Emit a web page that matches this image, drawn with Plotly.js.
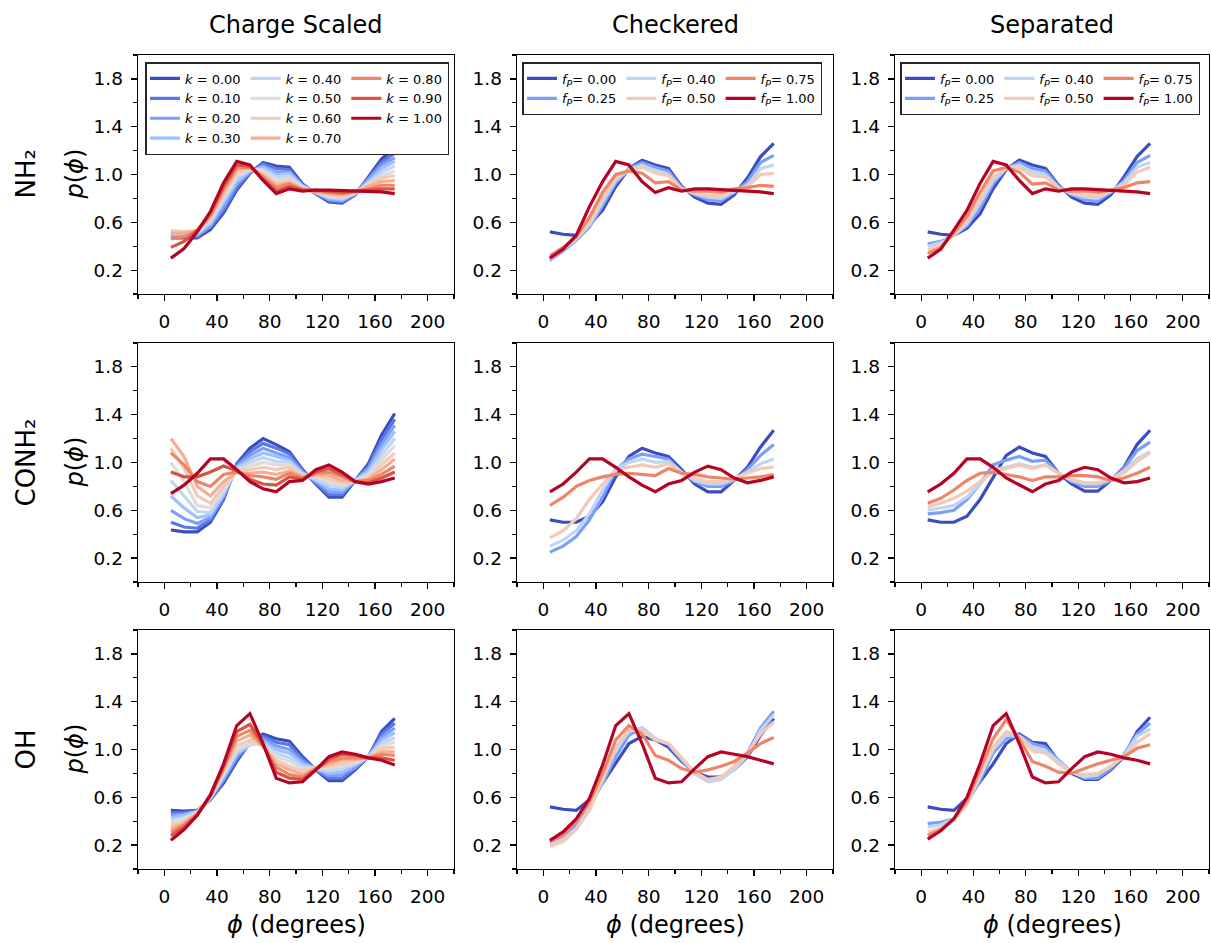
<!DOCTYPE html>
<html>
<head>
<meta charset="utf-8">
<script src="https://cdn.plot.ly/plotly-3.0.1.min.js"></script>
<style>html,body{margin:0;padding:0;background:#fff;}#chart{width:1211px;height:943px;}</style>
</head>
<body>
<div id="chart"></div>
<script>
// ---------------- data ----------------
const phi = [5,15,25,35,45,55,65,75,85,95,105,115,125,135,145,155,165,175];
const kValues = [0.00,0.10,0.20,0.30,0.40,0.50,0.60,0.70,0.80,0.90,1.00];
const fpValues = [0.00,0.25,0.40,0.50,0.75,1.00];
const colTitles = ['Charge Scaled','Checkered','Separated'];
const rowLabels = ['NH\u2082','CONH\u2082','OH'];
const xTickVals = [0,40,80,120,160,200];
const xTickText = ['0','40','80','120','160','200'];
const yTickVals = [0.2,0.6,1.0,1.4,1.8];
const yTickText = ['0.2','0.6','1.0','1.4','1.8'];

// NH2 – charge scaled (k = 0.0 ... 1.0)
const nh2Charge = [
 [.47,.47,.47,.54,.68,.87,1.01,1.10,1.07,1.06,.92,.84,.77,.76,.83,.98,1.13,1.22],
 [.48,.48,.48,.56,.70,.89,1.02,1.09,1.05,1.04,.91,.84,.78,.77,.83,.97,1.10,1.18],
 [.49,.49,.49,.57,.73,.92,1.02,1.07,1.02,1.02,.91,.85,.79,.78,.84,.96,1.08,1.14],
 [.50,.50,.50,.59,.76,.94,1.03,1.06,1.00,1.01,.90,.85,.80,.79,.84,.94,1.05,1.11],
 [.51,.51,.51,.60,.78,.97,1.04,1.04,.98,.99,.90,.85,.81,.80,.84,.93,1.02,1.07],
 [.52,.52,.52,.62,.80,.99,1.04,1.03,.96,.97,.89,.86,.82,.81,.85,.92,.99,1.03],
 [.53,.52,.53,.63,.83,1.01,1.05,1.01,.93,.95,.88,.86,.83,.82,.85,.91,.97,.99],
 [.51,.51,.53,.65,.85,1.04,1.06,.99,.91,.93,.88,.86,.84,.83,.85,.90,.94,.95],
 [.46,.48,.53,.66,.88,1.06,1.06,.98,.89,.92,.87,.86,.85,.84,.86,.88,.91,.91],
 [.39,.44,.53,.68,.90,1.08,1.07,.96,.86,.90,.87,.87,.86,.85,.86,.87,.88,.88],
 [.30,.38,.52,.69,.93,1.11,1.08,.95,.84,.88,.86,.87,.87,.865,.86,.86,.855,.84]
];
// NH2 – checkered (fP)
const nh2Checkered = [
 [.52,.50,.49,.58,.70,.90,1.05,1.12,1.08,1.05,.90,.81,.76,.75,.83,.97,1.15,1.26],
 [.28,.36,.45,.56,.74,.93,1.05,1.10,1.06,1.03,.89,.83,.79,.78,.85,.94,1.10,1.16],
 [.29,.37,.46,.58,.77,.95,1.04,1.08,1.03,1.00,.88,.84,.81,.80,.86,.91,1.05,1.08],
 [.30,.38,.47,.60,.80,.97,1.04,1.06,1.01,.99,.88,.85,.83,.82,.87,.90,1.00,1.01],
 [.32,.39,.48,.64,.85,1.00,1.03,1.01,.93,.94,.87,.86,.86,.85,.88,.89,.91,.90],
 [.30,.375,.49,.73,.94,1.11,1.08,.94,.85,.89,.86,.88,.88,.875,.87,.865,.855,.84]
];
// NH2 – separated (fP)
const nh2Separated = [
 [.52,.50,.49,.55,.67,.88,1.04,1.12,1.08,1.05,.91,.81,.76,.75,.83,.98,1.15,1.26],
 [.42,.44,.49,.57,.72,.92,1.05,1.10,1.05,1.03,.90,.83,.79,.78,.85,.95,1.10,1.16],
 [.40,.43,.49,.59,.76,.95,1.05,1.08,1.02,1.00,.89,.84,.81,.80,.86,.93,1.06,1.10],
 [.37,.41,.50,.61,.79,.98,1.05,1.06,.99,.98,.88,.85,.83,.82,.86,.91,1.02,1.06],
 [.34,.39,.51,.65,.85,1.03,1.06,1.02,.92,.93,.87,.86,.86,.85,.87,.89,.93,.94],
 [.30,.375,.535,.70,.925,1.11,1.08,.95,.84,.88,.86,.88,.88,.875,.87,.86,.855,.84]
];
// CONH2 – charge scaled
const conh2Charge = [
 [.435,.42,.42,.50,.69,.99,1.12,1.20,1.15,1.09,.94,.82,.71,.71,.85,.99,1.23,1.41],
 [.50,.46,.45,.52,.70,.98,1.09,1.16,1.12,1.07,.93,.83,.73,.73,.85,.97,1.19,1.36],
 [.60,.53,.49,.54,.72,.97,1.06,1.12,1.08,1.04,.92,.84,.76,.75,.85,.95,1.15,1.31],
 [.72,.62,.54,.56,.73,.96,1.03,1.08,1.05,1.02,.91,.85,.78,.77,.85,.93,1.11,1.26],
 [.85,.72,.59,.58,.75,.95,1.00,1.04,1.01,1.00,.90,.86,.81,.79,.85,.91,1.06,1.20],
 [1.00,.84,.64,.62,.77,.94,.97,1.00,.98,.98,.90,.88,.84,.81,.85,.89,1.02,1.14],
 [1.12,.95,.72,.66,.80,.93,.94,.96,.94,.96,.89,.89,.86,.83,.84,.87,.98,1.08],
 [1.20,1.05,.80,.72,.84,.92,.91,.92,.90,.93,.88,.90,.89,.85,.84,.86,.94,1.03],
 [1.08,.98,.84,.80,.90,.92,.89,.88,.86,.91,.87,.91,.92,.88,.84,.85,.90,.97],
 [.92,.88,.88,.92,.97,.93,.86,.82,.81,.88,.86,.92,.95,.90,.84,.83,.87,.92],
 [.74,.81,.91,1.03,1.03,.94,.84,.78,.755,.84,.85,.94,.98,.92,.84,.82,.84,.87]
];
// CONH2 – checkered
const conh2Checkered = [
 [.52,.50,.50,.55,.67,.88,1.05,1.12,1.08,1.05,.94,.82,.755,.755,.85,.96,1.13,1.27],
 [.25,.30,.38,.52,.71,.94,1.03,1.07,1.05,1.03,.92,.84,.80,.80,.85,.94,1.06,1.15],
 [.30,.35,.43,.57,.77,.95,1.00,1.03,1.00,1.01,.92,.85,.82,.82,.86,.92,.99,1.03],
 [.37,.43,.53,.69,.82,.94,.96,.98,.96,.99,.91,.87,.84,.84,.87,.91,.95,.96],
 [.64,.71,.80,.85,.88,.90,.91,.90,.89,.95,.91,.90,.88,.87,.86,.87,.88,.90],
 [.755,.82,.92,1.03,1.03,.96,.88,.81,.755,.82,.85,.92,.97,.94,.87,.83,.85,.88]
];
// CONH2 – separated
const conh2Separated = [
 [.52,.50,.50,.55,.69,.88,1.06,1.13,1.08,1.05,.91,.82,.76,.76,.85,.96,1.15,1.27],
 [.57,.58,.60,.69,.82,.98,1.02,1.05,1.01,1.02,.91,.84,.80,.80,.85,.95,1.10,1.17],
 [.60,.62,.64,.71,.82,.94,.96,.99,.96,.98,.91,.85,.82,.82,.86,.93,1.03,1.09],
 [.63,.66,.70,.76,.84,.92,.95,.98,.95,.98,.91,.86,.83,.83,.86,.91,1.01,1.08],
 [.66,.70,.77,.85,.91,.92,.90,.88,.85,.88,.88,.89,.89,.88,.85,.87,.91,.96],
 [.755,.82,.91,1.03,1.03,.96,.87,.81,.755,.82,.85,.92,.96,.94,.87,.83,.84,.87]
];
// OH – charge scaled
const ohCharge = [
 [.49,.485,.49,.58,.72,.90,1.06,1.13,1.09,1.07,.94,.83,.74,.74,.83,.94,1.15,1.26],
 [.47,.47,.49,.58,.74,.92,1.05,1.11,1.06,1.04,.92,.83,.76,.76,.84,.94,1.13,1.22],
 [.45,.46,.48,.59,.75,.94,1.05,1.09,1.03,1.00,.90,.84,.78,.79,.85,.94,1.10,1.18],
 [.43,.45,.48,.59,.77,.96,1.04,1.07,1.00,.97,.88,.84,.80,.81,.87,.94,1.08,1.14],
 [.41,.43,.48,.60,.78,.98,1.04,1.05,.97,.93,.86,.84,.82,.84,.88,.94,1.05,1.10],
 [.39,.42,.47,.60,.80,1.00,1.05,1.04,.94,.90,.84,.85,.84,.86,.89,.93,1.03,1.06],
 [.37,.40,.47,.60,.82,1.03,1.08,1.03,.91,.86,.82,.85,.86,.88,.91,.93,1.01,1.02],
 [.34,.38,.46,.61,.83,1.07,1.12,1.03,.88,.83,.79,.84,.88,.91,.92,.93,.98,.98],
 [.31,.37,.46,.61,.85,1.11,1.16,1.03,.85,.79,.77,.84,.90,.93,.93,.93,.96,.95],
 [.28,.35,.45,.62,.86,1.15,1.21,1.04,.81,.76,.75,.83,.92,.96,.95,.93,.93,.91],
 [.24,.33,.45,.62,.88,1.20,1.30,1.05,.76,.72,.73,.83,.94,.98,.96,.93,.91,.87]
];
// OH – checkered
const ohCheckered = [
 [.52,.50,.49,.58,.72,.88,1.05,1.11,1.08,1.02,.90,.81,.77,.77,.83,.94,1.12,1.26],
 [.23,.27,.37,.52,.72,.94,1.12,1.18,1.09,1.04,.91,.80,.74,.76,.84,.97,1.18,1.32],
 [.21,.25,.34,.51,.74,1.00,1.15,1.18,1.09,1.05,.93,.80,.73,.75,.83,.95,1.16,1.29],
 [.19,.23,.33,.49,.76,1.02,1.16,1.16,1.08,1.05,.93,.81,.75,.77,.86,.97,1.13,1.23],
 [.23,.28,.40,.56,.80,1.08,1.20,1.13,.95,.91,.84,.81,.83,.86,.90,.97,1.05,1.10],
 [.24,.31,.42,.59,.87,1.20,1.30,1.05,.76,.72,.73,.84,.94,.98,.96,.94,.91,.88]
];
// OH – separated
const ohSeparated = [
 [.52,.50,.49,.59,.73,.88,1.05,1.13,1.06,1.05,.90,.80,.75,.75,.83,.94,1.15,1.27],
 [.38,.39,.42,.55,.74,.97,1.09,1.12,1.05,1.02,.91,.81,.76,.76,.84,.96,1.13,1.22],
 [.35,.37,.42,.54,.77,1.00,1.12,1.11,1.02,.99,.90,.81,.77,.79,.86,.95,1.11,1.17],
 [.31,.34,.41,.55,.79,1.02,1.15,1.11,.99,.97,.88,.81,.79,.80,.86,.94,1.06,1.13],
 [.28,.33,.42,.57,.83,1.09,1.25,1.09,.90,.86,.81,.80,.84,.88,.91,.94,1.01,1.04],
 [.25,.32,.42,.60,.88,1.20,1.30,1.05,.77,.72,.73,.84,.94,.98,.96,.93,.91,.88]
];

// ---------------- styles ----------------
const kColors = ['#3b4cc0','#5978e3','#7b9ff9','#9fbfff','#c0d4f5','#dddddd','#f2cab6','#f7ad8f','#ee8568','#d75344','#b40426'];
const fpColors = ['#3b4cc0','#7b9ff9','#c0d4f5','#f2cab6','#ee8568','#b40426'];
const kGroups = ['a','a','a','a','b','b','b','b','c','c','c'];
const fpGroups = ['a','a','b','b','c','c'];

const W = 1211, H = 943;
const colPx = [[138,454],[517,833],[895,1209]];
const rowPx = [[55,294],[343,582],[630,869]];
const FONT = 'DejaVu Sans, Arial, sans-serif';

const panels = [
  [nh2Charge, nh2Checkered, nh2Separated],
  [conh2Charge, conh2Checkered, conh2Separated],
  [ohCharge, ohCheckered, ohSeparated]
];

const traces = [];
const layout = {
  width: W, height: H,
  margin: {l:0, r:0, t:0, b:0},
  paper_bgcolor: '#ffffff', plot_bgcolor: '#ffffff',
  font: {family: FONT, color: '#000000'},
  showlegend: true,
  annotations: []
};

const legendNames = ['legend','legend2','legend3'];
const legendX = [145, 522, 900];

for (let r = 0; r < 3; r++) {
  for (let c = 0; c < 3; c++) {
    const idx = r*3 + c + 1;
    const sfx = idx === 1 ? '' : String(idx);
    const xa = 'x' + sfx, ya = 'y' + sfx;
    layout['xaxis' + sfx] = {
      domain: [colPx[c][0]/W, colPx[c][1]/W], anchor: ya,
      range: [-20, 220], tickmode: 'array', tickvals: xTickVals, ticktext: xTickText,
      ticks: 'outside', ticklen: 6, tickwidth: 1.2, tickcolor: '#000',
      showline: true, mirror: true, linecolor: '#000', linewidth: 1.3,
      showgrid: false, zeroline: false, fixedrange: true,
      tickfont: {size: 18.5, family: FONT, color: '#000'},
      ticklabelstandoff: 4,
      minor: {tickmode: 'linear', tick0: 0, dtick: 20, ticks: 'outside', ticklen: 3.5, tickwidth: 1.1, tickcolor: '#000', showgrid: false}
    };
    layout['yaxis' + sfx] = {
      domain: [1 - rowPx[r][1]/H, 1 - rowPx[r][0]/H], anchor: xa,
      range: [0, 2], tickmode: 'array', tickvals: yTickVals, ticktext: yTickText,
      ticks: 'outside', ticklen: 6, tickwidth: 1.2, tickcolor: '#000',
      showline: true, mirror: true, linecolor: '#000', linewidth: 1.3,
      showgrid: false, zeroline: false, fixedrange: true,
      tickfont: {size: 18.5, family: FONT, color: '#000'},
      ticklabelstandoff: 4,
      minor: {tickmode: 'linear', tick0: 0, dtick: 0.2, ticks: 'outside', ticklen: 3.5, tickwidth: 1.1, tickcolor: '#000', showgrid: false}
    };

    const series = panels[r][c];
    const isK = (c === 0);
    const vals = isK ? kValues : fpValues;
    const cols = isK ? kColors : fpColors;
    const grps = isK ? kGroups : fpGroups;
    for (let i = 0; i < series.length; i++) {
      const name = isK
        ? '<i>k</i> = ' + vals[i].toFixed(2)
        : '<i>f</i><span style="font-size:9.5px;baseline-shift:-3px"><i>P</i></span>= ' + vals[i].toFixed(2);
      traces.push({
        type: 'scatter', mode: 'lines',
        x: phi, y: series[i],
        xaxis: xa, yaxis: ya,
        name: name,
        line: {color: cols[i], width: 3.2},
        showlegend: r === 0,
        legend: legendNames[c],
        legendgroup: 'c' + c + grps[i],
        hoverinfo: 'skip'
      });
    }
  }
}

for (let c = 0; c < 3; c++) {
  layout[legendNames[c]] = {
    x: legendX[c]/W, y: 1 - 62/H, xanchor: 'left', yanchor: 'top',
    orientation: 'h', traceorder: 'grouped',
    bgcolor: '#ffffff', bordercolor: '#262626', borderwidth: 1.5,
    font: {size: 13, family: FONT, color: '#000'},
    itemwidth: 30
  };
  // column titles
  layout.annotations.push({
    text: colTitles[c], xref: 'paper', yref: 'paper',
    x: (colPx[c][0] + colPx[c][1]) / 2 / W, y: 1 - 25/H,
    xanchor: 'center', yanchor: 'middle', showarrow: false,
    font: {size: 24, family: FONT, color: '#000'}
  });
  // x-axis labels under bottom row
  layout.annotations.push({
    text: '<i>ϕ</i> (degrees)', xref: 'paper', yref: 'paper',
    x: (colPx[c][0] + colPx[c][1]) / 2 / W, y: 1 - 925/H,
    xanchor: 'center', yanchor: 'middle', showarrow: false,
    font: {size: 24, family: FONT, color: '#000'}
  });
}
for (let r = 0; r < 3; r++) {
  const yc = 1 - (rowPx[r][0] + rowPx[r][1]) / 2 / H;
  layout.annotations.push({
    text: rowLabels[r], xref: 'paper', yref: 'paper',
    x: 25/W, y: yc, xanchor: 'center', yanchor: 'middle',
    textangle: -90, showarrow: false,
    font: {size: 26, family: FONT, color: '#000'}
  });
  layout.annotations.push({
    text: '<i>p</i>(<i>ϕ</i>)', xref: 'paper', yref: 'paper',
    x: 74/W, y: yc, xanchor: 'center', yanchor: 'middle',
    textangle: -90, showarrow: false,
    font: {size: 24, family: FONT, color: '#000'}
  });
}

Plotly.newPlot('chart', traces, layout, {displayModeBar: false, staticPlot: true});
</script>
</body>
</html>
